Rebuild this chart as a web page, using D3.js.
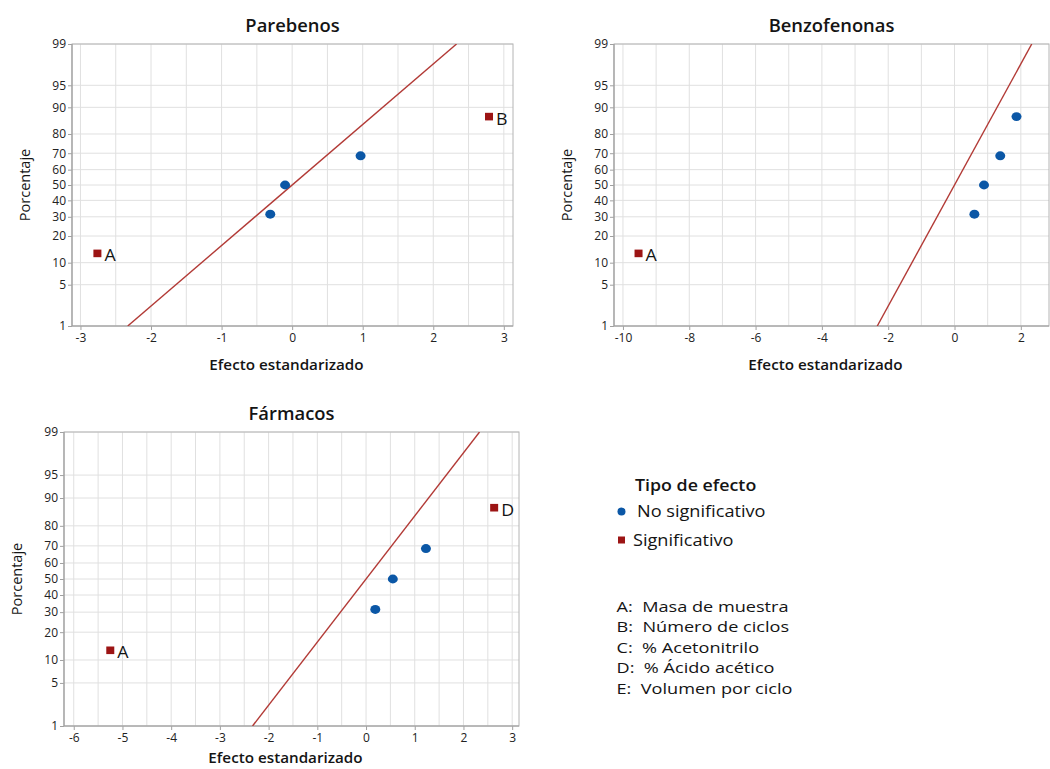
<!DOCTYPE html>
<html>
<head>
<meta charset="utf-8">
<script src="https://cdn.jsdelivr.net/npm/d3@7"></script>
<style>
  html, body { margin: 0; padding: 0; background: #fff; }
  svg { display: block; font-family: "Open Sans", "Noto Sans", sans-serif; }
</style>
</head>
<body>
<svg id="chart" width="1050" height="769"></svg>
<script>
// ---- data -----------------------------------------------------------
const pctTicks = [1, 5, 10, 20, 30, 40, 50, 60, 70, 80, 90, 95, 99];
const effectPct = [12.96, 31.48, 50, 68.52, 87.04];

const parabenosEffects = [-2.76, -0.31, -0.10, 0.97, 2.79];
const parabenosLabels  = ["A", "", "", "", "B"];
const parabenosSig     = [true, false, false, false, true];

const benzoEffects = [-9.53, 0.60, 0.89, 1.38, 1.87];
const benzoLabels  = ["A", "", "", "", ""];
const benzoSig     = [true, false, false, false, false];

const farmacosEffects = [-5.25, 0.19, 0.55, 1.23, 2.63];
const farmacosLabels  = ["A", "", "", "", "D"];
const farmacosSig     = [true, false, false, false, true];

// reference line: effect value at 1 % and at 99 %
const refLineEffects = [-2.33, 2.33];
const refLinePct = [1, 99];

const parabenosTicks = [-3, -2, -1, 0, 1, 2, 3];
const benzoTicks = [-10, -8, -6, -4, -2, 0, 2];
const farmacosTicks = [-6, -5, -4, -3, -2, -1, 0, 1, 2, 3];

const legendTitle = "Tipo de efecto";
const legendItems = ["No significativo", "Significativo"];
const factorNames = ["A:  Masa de muestra", "B:  Número de ciclos", "C:  % Acetonitrilo",
                     "D:  % Ácido acético", "E:  Volumen por ciclo"];

// ---- helpers --------------------------------------------------------
// inverse standard normal CDF (Acklam's rational approximation)
function probit(p) {
  const a = [-3.969683028665376e+01, 2.209460984245205e+02, -2.759285104469687e+02,
             1.383577518672690e+02, -3.066479806614716e+01, 2.506628277459239e+00];
  const b = [-5.447609879822406e+01, 1.615858368580409e+02, -1.556989798598866e+02,
             6.680131188771972e+01, -1.328068155288572e+01];
  const c = [-7.784894002430293e-03, -3.223964580411365e-01, -2.400758277161838e+00,
             -2.549732539343734e+00, 4.374664141464968e+00, 2.938163982698783e+00];
  const d = [7.784695709041462e-03, 3.224671290700398e-01, 2.445134137142996e+00,
             3.754408661907416e+00];
  const pl = 0.02425, ph = 1 - pl;
  let q, r;
  if (p < pl) {
    q = Math.sqrt(-2 * Math.log(p));
    return (((((c[0]*q+c[1])*q+c[2])*q+c[3])*q+c[4])*q+c[5]) / ((((d[0]*q+d[1])*q+d[2])*q+d[3])*q+1);
  }
  if (p <= ph) {
    q = p - 0.5; r = q * q;
    return (((((a[0]*r+a[1])*r+a[2])*r+a[3])*r+a[4])*r+a[5])*q / (((((b[0]*r+b[1])*r+b[2])*r+b[3])*r+b[4])*r+1);
  }
  q = Math.sqrt(-2 * Math.log(1 - p));
  return -(((((c[0]*q+c[1])*q+c[2])*q+c[3])*q+c[4])*q+c[5]) / ((((d[0]*q+d[1])*q+d[2])*q+d[3])*q+1);
}

const COLORS = {
  blue: "#0b57a6",
  red: "#9c1414",
  line: "#b23a36",
  grid: "#e0e0e0",
  frame: "#a0a0a0",
  text: "#141414",
  tick: "#222"
};

const svg = d3.select("#chart");

// text that is slightly widened horizontally (wide UI face)
function wideText(sel, x, y, sx, str) {
  return sel.append("text")
    .attr("transform", `translate(${x},${y}) scale(${sx},1)`)
    .attr("fill", COLORS.text)
    .text(str);
}

function drawPanel(cfg) {
  const { box, title, xDomain, xTicks, gridStep, effects, labels, sig, xLabelY } = cfg;
  const x = d3.scaleLinear().domain(xDomain).range([box.left, box.right]);
  const y = d3.scaleLinear().domain([probit(0.01), probit(0.99)]).range([box.bottom, box.top]);
  const yp = p => y(probit(p / 100));

  const g = svg.append("g");
  const clipId = "clip-" + title.replace(/[^a-z]/gi, "");
  g.append("clipPath").attr("id", clipId).append("rect")
    .attr("x", box.left).attr("y", box.top)
    .attr("width", box.right - box.left).attr("height", box.bottom - box.top);

  // vertical grid
  const gx = d3.range(xTicks[0], xTicks[xTicks.length - 1] + gridStep / 2, gridStep);
  g.append("g").selectAll("line").data(gx).join("line")
    .attr("x1", d => x(d)).attr("x2", d => x(d))
    .attr("y1", box.top).attr("y2", box.bottom)
    .attr("stroke", COLORS.grid).attr("stroke-width", 1);
  // horizontal grid
  g.append("g").selectAll("line").data(pctTicks).join("line")
    .attr("x1", box.left).attr("x2", box.right)
    .attr("y1", d => yp(d)).attr("y2", d => yp(d))
    .attr("stroke", COLORS.grid).attr("stroke-width", 1);

  // axes
  const xAxis = d3.axisBottom(x).tickValues(xTicks).tickSize(4).tickPadding(3)
    .tickFormat(d => String(d));
  const ax = g.append("g").attr("transform", `translate(0,${box.bottom})`).call(xAxis);
  const yAxis = d3.axisLeft(y).tickValues(pctTicks.map(p => probit(p / 100)))
    .tickSize(4).tickPadding(2).tickFormat((d, i) => pctTicks[i]);
  const ay = g.append("g").attr("transform", `translate(${box.left},0)`).call(yAxis);
  [ax, ay].forEach(a => {
    a.select(".domain").remove();
    a.selectAll(".tick line").attr("stroke", COLORS.frame);
    a.selectAll(".tick text").attr("fill", COLORS.tick)
      .style("font-size", "12px").style("font-family", "'Open Sans', sans-serif");
  });

  // frame
  g.append("rect")
    .attr("x", box.left).attr("y", box.top)
    .attr("width", box.right - box.left).attr("height", box.bottom - box.top)
    .attr("fill", "none").attr("stroke", "#b4b4b4").attr("stroke-width", 1);
  g.append("path")
    .attr("d", `M${box.left},${box.top}V${box.bottom}H${box.right}`)
    .attr("fill", "none").attr("stroke", COLORS.frame).attr("stroke-width", 1.2);

  // reference line
  const refPts = refLineEffects.map((e, i) => [x(e), yp(refLinePct[i])]);
  g.append("path").attr("clip-path", `url(#${clipId})`)
    .attr("d", d3.line()(refPts))
    .attr("fill", "none").attr("stroke", COLORS.line).attr("stroke-width", 1.4);

  // points
  const pts = effects.map((e, i) => ({ e, p: effectPct[i], label: labels[i], sig: sig[i] }));
  g.append("g").selectAll("ellipse").data(pts.filter(d => !d.sig)).join("ellipse")
    .attr("cx", d => x(d.e)).attr("cy", d => yp(d.p)).attr("rx", 5).attr("ry", 4.4)
    .attr("fill", COLORS.blue);
  g.append("g").selectAll("rect").data(pts.filter(d => d.sig)).join("rect")
    .attr("x", d => x(d.e) - 4).attr("y", d => yp(d.p) - 3.8)
    .attr("width", 8).attr("height", 7.6)
    .attr("fill", COLORS.red);
  g.append("g").selectAll("text").data(pts.filter(d => d.label)).join("text")
    .attr("transform", d => `translate(${x(d.e) + 7},${yp(d.p) + 8}) scale(1.08,1)`)
    .attr("fill", COLORS.text).style("font-size", "16.5px")
    .text(d => d.label);

  // titles
  const cx = (box.left + box.right) / 2;
  wideText(g, cx, box.top - 12, 1.05, title)
    .attr("text-anchor", "middle")
    .style("font-size", "17.5px").style("font-weight", 600);
  wideText(g, cx - 6, xLabelY, 1.05, "Efecto estandarizado")
    .attr("text-anchor", "middle")
    .style("font-size", "14.5px").style("font-weight", 600);
  g.append("text")
    .attr("transform", `translate(${box.left - 42},${(box.top + box.bottom) / 2}) rotate(-90)`)
    .attr("text-anchor", "middle").attr("fill", COLORS.text)
    .style("font-size", "14.5px").text("Porcentaje");
}

drawPanel({
  box: { left: 72, right: 513, top: 44, bottom: 326 },
  title: "Parebenos", xDomain: [-3.12, 3.13], xTicks: parabenosTicks, gridStep: 0.5,
  effects: parabenosEffects, labels: parabenosLabels, sig: parabenosSig, xLabelY: 370
});
drawPanel({
  box: { left: 614, right: 1049, top: 44, bottom: 326 },
  title: "Benzofenonas", xDomain: [-10.27, 2.85], xTicks: benzoTicks, gridStep: 1,
  effects: benzoEffects, labels: benzoLabels, sig: benzoSig, xLabelY: 370
});
drawPanel({
  box: { left: 64, right: 519, top: 432, bottom: 726 },
  title: "Fármacos", xDomain: [-6.2, 3.14], xTicks: farmacosTicks, gridStep: 0.5,
  effects: farmacosEffects, labels: farmacosLabels, sig: farmacosSig, xLabelY: 763
});

// ---- legend ---------------------------------------------------------
const lg = svg.append("g").style("font-size", "16.5px");
wideText(lg, 635, 491, 1.08, legendTitle).style("font-weight", 600);
lg.append("circle").attr("cx", 621.5).attr("cy", 511.5).attr("r", 4).attr("fill", COLORS.blue);
wideText(lg, 637, 517, 1.1, legendItems[0]).style("font-weight", 500);
lg.append("rect").attr("x", 618).attr("y", 536.5).attr("width", 7).attr("height", 7)
  .attr("fill", COLORS.red);
wideText(lg, 633, 545.5, 1.1, legendItems[1]).style("font-weight", 500);

factorNames.forEach((name, i) => {
  wideText(lg, 616.5, 612 + i * 20.4, 1.21, name)
    .style("font-size", "15px")
    .style("white-space", "pre").style("font-weight", 500);
});
</script>
</body>
</html>
